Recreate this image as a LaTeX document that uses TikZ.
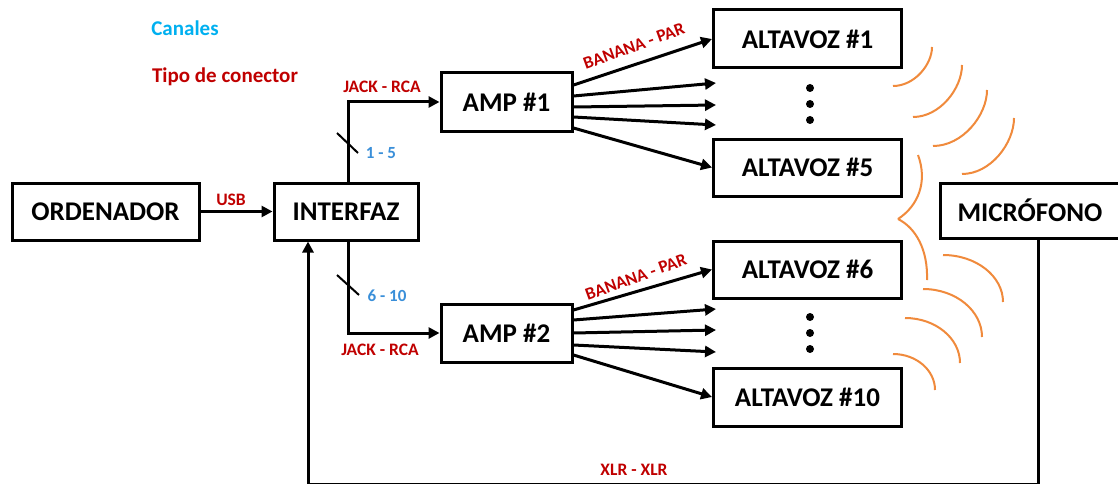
\documentclass[tikz,border=0pt]{standalone}
\usepackage{fontspec}
\setmainfont{Carlito}
\usetikzlibrary{arrows.meta}
\definecolor{lblred}{HTML}{C00000}
\definecolor{chblue}{HTML}{00B0F0}
\definecolor{numblue}{HTML}{3A8FD9}
\definecolor{wave}{HTML}{F08A3C}
\tikzset{
  box/.style={draw, line width=3pt, font=\bfseries\fontsize{27}{29}\selectfont, inner sep=0pt, minimum height=57pt},
  conn/.style={line width=3pt, -{Triangle[length=11pt,width=11pt]}},
  lbl/.style={text=lblred, font=\bfseries\fontsize{17.5}{19}\selectfont, inner sep=0pt},
  num/.style={text=numblue, font=\bfseries\fontsize{17}{19}\selectfont, inner sep=0pt},
  legend/.style={font=\bfseries\fontsize{21}{23}\selectfont, inner sep=0pt},
  tick/.style={line width=2pt},
  wavearc/.style={draw=wave, line width=2pt},
  dotmark/.style={fill=black, circle, inner sep=0pt, minimum size=8pt}
}
\begin{document}
\begin{tikzpicture}[x=1pt,y=-1pt]
\clip (0,0) rectangle (1118,484);
\fill[white] (0,0) rectangle (1118,484);
% legend
\node[legend, text=chblue] (leg1) at (185,28) {Canales};
\node[legend, text=lblred] (leg2) at (225,77) {Tipo de conector};
% boxes
\node[box, minimum width=187pt] (ord) at (105.5,211.5) {ORDENADOR};
\node[box, minimum width=144pt] (int) at (346,211.5) {INTERFAZ};
\node[box, minimum width=131pt, minimum height=58pt] (amp1) at (506.5,102) {AMP \#1};
\node[box, minimum width=131pt, minimum height=58pt] (amp2) at (506.5,333) {AMP \#2};
\node[box, minimum width=188pt, minimum height=58pt] (alt1) at (807.5,39) {ALTAVOZ \#1};
\node[box, minimum width=188pt] (alt5) at (807.5,167.5) {ALTAVOZ \#5};
\node[box, minimum width=188pt] (alt6) at (807.5,269.5) {ALTAVOZ \#6};
\node[box, minimum width=188pt, minimum height=58pt] (alt10) at (807.5,397) {ALTAVOZ \#10};
\node[box, minimum width=180pt, minimum height=55pt] (mic) at (1030,210.5) {MICRÓFONO};
% ORDENADOR -> INTERFAZ
\draw[conn] (ord) -- (int);
\node[lbl] (usb) at (231,200) {USB};
% INTERFAZ -> AMPs
\draw[conn] (int.north -| 348,0) |- (amp1.west);
\draw[conn] (int.south -| 348,0) |- (amp2.west);
\draw[tick] (337,133) -- (358,153);
\draw[tick] (337,275) -- (359,295);
\node[num] (ch1) at (381,153) {1 - 5};
\node[num] (ch2) at (387,296) {6 - 10};
\node[lbl] (jr1) at (382,87) {JACK - RCA};
\node[lbl] (jr2) at (380,350) {JACK - RCA};
% AMP1 fan
\coordinate (a1e2) at (716,83);
\coordinate (a1e3) at (716,105);
\coordinate (a1e4) at (716,125);
\draw[conn] (amp1.east |- 0,85) -- (alt1.west);
\draw[conn] (amp1.east |- 0,96) -- (a1e2);
\draw[conn] (amp1.east |- 0,107) -- (a1e3);
\draw[conn] (amp1.east |- 0,117) -- (a1e4);
\draw[conn] (amp1.east |- 0,128) -- (alt5.west);
\node[lbl, rotate=20] (bp1) at (634,46) {BANANA - PAR};
\node[dotmark] (d1) at (810,88) {};
\node[dotmark] (d2) at (810,104) {};
\node[dotmark] (d3) at (810,120) {};
% AMP2 fan
\coordinate (a2e2) at (716,309);
\coordinate (a2e3) at (716,330);
\coordinate (a2e4) at (716,352);
\draw[conn] (amp2.east |- 0,310) -- (alt6.west);
\draw[conn] (amp2.east |- 0,320) -- (a2e2);
\draw[conn] (amp2.east |- 0,333) -- (a2e3);
\draw[conn] (amp2.east |- 0,345) -- (a2e4);
\draw[conn] (amp2.east |- 0,355) -- (alt10.west);
\node[lbl, rotate=20] (bp2) at (636,277) {BANANA - PAR};
\node[dotmark] (d4) at (810,317) {};
\node[dotmark] (d5) at (810,333) {};
\node[dotmark] (d6) at (810,349) {};
% feedback
\coordinate (fbr) at (1038,484.5);
\draw[conn] (mic.south -| fbr) -- (fbr) -| (int.south -| 308,0);
\node[lbl] (xlr) at (634,470) {XLR - XLR};
% sound waves (upper)
\draw[wavearc] (893,86) .. controls (914.5,86) and (932,64.5) .. (932,47);
\draw[wavearc] (913,117) .. controls (940,117) and (962,88.3) .. (962,65);
\draw[wavearc] (933,146) .. controls (962.8,146) and (987,115.1) .. (987,90);
\draw[wavearc] (962,174) .. controls (990.7,174) and (1014,143.1) .. (1014,118);
% brace-like wave
\draw[wavearc] (918,155) .. controls (928,182) and (918,206) .. (898,219);
\draw[wavearc] (898,219) .. controls (916,228) and (928,250) .. (927,280);
% sound waves (lower)
\draw[wavearc] (943,255) .. controls (976.1,255) and (1003,276.1) .. (1003,302);
\draw[wavearc] (923,289) .. controls (955.6,289) and (982,310.5) .. (982,337);
\draw[wavearc] (905,318) .. controls (935.4,318) and (960,338.2) .. (960,363);
\draw[wavearc] (893,354) .. controls (916.2,354) and (935,370.1) .. (935,390);
\end{tikzpicture}
\end{document}
